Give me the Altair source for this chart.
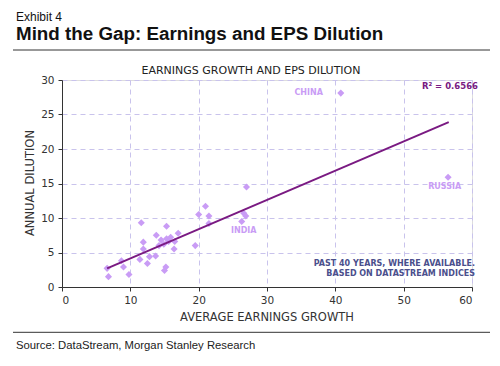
import altair as alt
import pandas as pd

# ---- data ----
growth = [6.8, 6.6, 8.7, 9.0, 9.8, 11.4, 11.6, 11.9, 11.9, 12.5, 12.8, 13.7, 13.8,
          15.2, 15.0, 15.3, 14.9, 15.3, 15.6, 15.9, 14.5, 14.2, 16.5, 16.4, 17.0,
          19.5, 20.0, 21.0, 21.5, 21.5, 26.3, 26.6, 26.9, 27.0, 40.8, 56.5]
dilution = [1.5, 2.7, 3.8, 2.9, 1.8, 4.0, 9.3, 6.5, 5.5, 3.4, 4.4, 4.5, 7.5,
            2.9, 2.4, 8.8, 6.2, 7.0, 6.6, 7.2, 6.8, 6.0, 6.6, 5.5, 7.8,
            6.0, 10.5, 11.7, 10.3, 9.2, 9.5, 10.7, 10.3, 14.5, 28.1, 15.9]

fit_x = [6.6, 56.6]
fit_y = [2.7, 23.9]

country_names = ["CHINA", "RUSSIA", "INDIA"]
country_x = [36.1, 56.0, 26.6]
country_y = [28.1, 14.5, 8.1]

x_ticks = [0, 10, 20, 30, 40, 50, 60]
y_ticks = [0, 5, 10, 15, 20, 25, 30]

PT = "#c99cf5"
LINE = "#7a1a82"
GRID = "#c9c3ec"
FONT = "DejaVu Sans"

pts = pd.DataFrame({"g": growth, "d": dilution})
fit = pd.DataFrame({"g": fit_x, "d": fit_y})
lab = pd.DataFrame({"name": country_names, "g": country_x, "d": country_y})

xs = alt.Scale(domain=[0, 60], nice=False, zero=True)
ys = alt.Scale(domain=[0, 30], nice=False, zero=True)

xax = alt.Axis(values=x_ticks, title=None, grid=True, gridColor=GRID, gridDash=[5, 4],
               domainColor="#333333", tickColor="#333333", tickSize=4, labelOverlap=False,
               labelFont=FONT, labelFontSize=10.5, labelColor="#333333", labelPadding=4)
yax = alt.Axis(values=y_ticks, title=None, grid=True, gridColor=GRID, gridDash=[5, 4],
               domainColor="#333333", tickColor="#333333", tickSize=4, labelOverlap=False,
               labelFont=FONT, labelFontSize=10.5, labelColor="#333333", labelPadding=4)

X = alt.X("g:Q", scale=xs, axis=xax)
Y = alt.Y("d:Q", scale=ys, axis=yax)

points = alt.Chart(pts).mark_point(shape="diamond", filled=True, color=PT, size=50, opacity=1).encode(
    x=X, y=Y)

line = alt.Chart(fit).mark_line(color=LINE, strokeWidth=2).encode(x=X, y=Y)

labels = alt.Chart(lab).mark_text(font=FONT, fontSize=8, fontWeight="bold", color=PT).encode(
    x=X, y=Y, text="name:N")

one = pd.DataFrame({"a": [0]})

def txt(text, x, y, **kw):
    return alt.Chart(one).mark_text(text=text, **kw).encode(x=alt.value(x), y=alt.value(y))

def hrule(y, x1=-49, x2=428, color="#333333", w=1):
    return alt.Chart(one).mark_rule(color=color, strokeWidth=w).encode(
        x=alt.value(x1), x2=alt.value(x2), y=alt.value(y))

# plot origin on page = (62, 80)
annos = [
    hrule(-72.5),
    txt("Exhibit 4", -46, -59.5, align="left", baseline="alphabetic", font="Liberation Sans",
        fontSize=12, color="#111111"),
    txt("Mind the Gap: Earnings and EPS Dilution", -46, -40, align="left", baseline="alphabetic",
        font="Liberation Sans", fontSize=18.8, fontWeight="bold", color="#111111"),
    hrule(-30),
    txt("EARNINGS GROWTH AND EPS DILUTION", 189, -9, align="center", baseline="middle",
        font=FONT, fontSize=11, color="#222222"),
    txt("ANNUAL DILUTION", -31, 103, align="center", baseline="middle", angle=270,
        font=FONT, fontSize=11.5, color="#333333"),
    txt("AVERAGE EARNINGS GROWTH", 205, 238, align="center", baseline="middle",
        font=FONT, fontSize=11.5, color="#333333"),
    txt("R² = 0.6566", 416, 6, align="right", baseline="middle", font=FONT, fontSize=8.5,
        fontWeight="bold", color=LINE),
    txt("PAST 40 YEARS, WHERE AVAILABLE.", 413, 184, align="right", baseline="middle", font=FONT,
        fontSize=8, fontWeight="bold", color="#4b4f8c"),
    txt("BASED ON DATASTREAM INDICES", 413, 194, align="right", baseline="middle", font=FONT,
        fontSize=8, fontWeight="bold", color="#4b4f8c"),
    hrule(252.3),
    txt("Source: DataStream, Morgan Stanley Research", -46, 266, align="left", baseline="middle",
        font="Liberation Sans", fontSize=11.3, color="#222222"),
]

chart = alt.layer(points, line, labels, *annos).properties(
    width=410, height=207,
    autosize=alt.AutoSizeParams(type="none"),
    padding={"left": 54, "top": 72, "right": 20, "bottom": 71},
).configure_view(stroke=None).configure(background="white")

chart.save("out.html", embed_options={"renderer": "svg", "actions": False})
